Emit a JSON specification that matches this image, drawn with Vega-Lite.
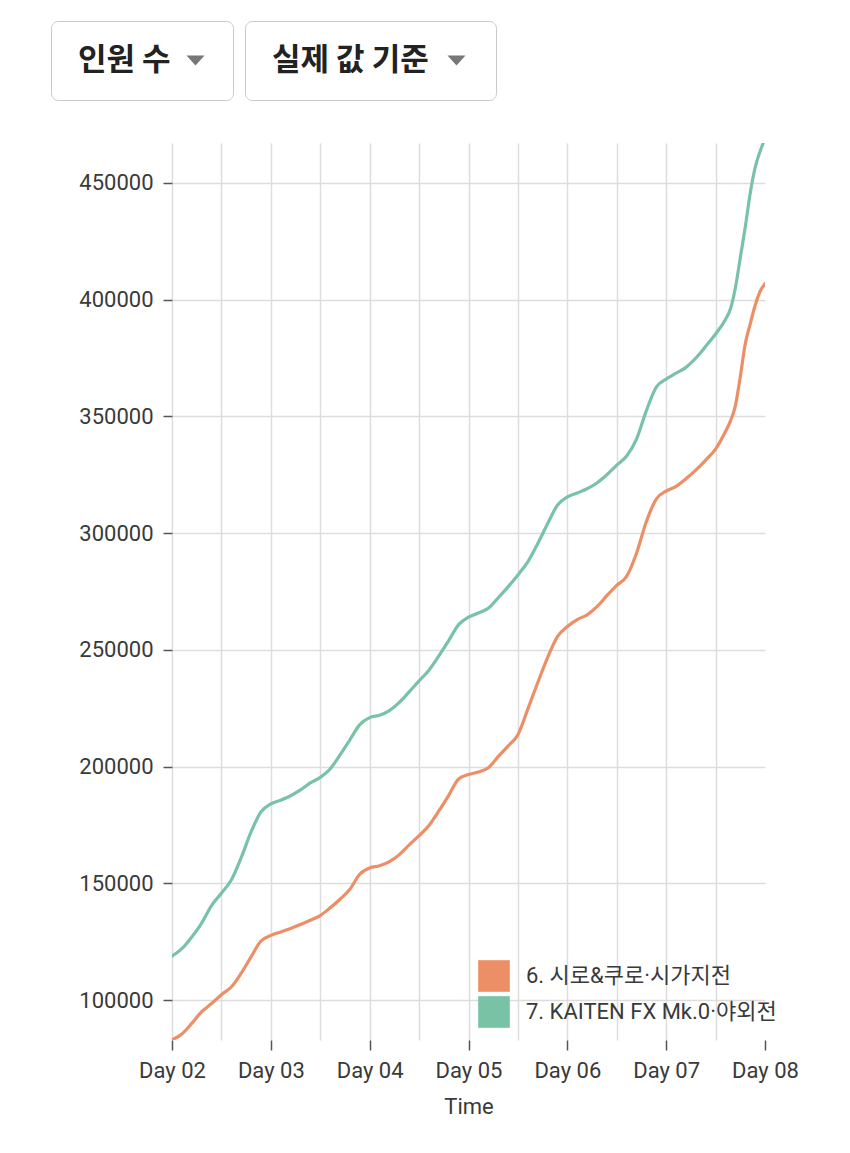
{
  "$schema": "https://vega.github.io/schema/vega-lite/v6.json",
  "background": "white",
  "padding": {"left": 50, "top": 20, "right": 0, "bottom": 0},
  "config": {"font": "Roboto, 'Noto Sans CJK KR', sans-serif", "view": {"stroke": null}},
  "width": 593,
  "height": 897,
  "resolve": {"scale": {"shape": "independent"}, "legend": {"shape": "independent"}},
  "layer": [
    {
      "data": {"values": [
        {"s": "6. 시로&쿠로·시가지전", "d": 2.0, "v": 83000},
        {"s": "6. 시로&쿠로·시가지전", "d": 2.1, "v": 85500},
        {"s": "6. 시로&쿠로·시가지전", "d": 2.2, "v": 90000},
        {"s": "6. 시로&쿠로·시가지전", "d": 2.3, "v": 95000},
        {"s": "6. 시로&쿠로·시가지전", "d": 2.4, "v": 98500},
        {"s": "6. 시로&쿠로·시가지전", "d": 2.5, "v": 102300},
        {"s": "6. 시로&쿠로·시가지전", "d": 2.6, "v": 105600},
        {"s": "6. 시로&쿠로·시가지전", "d": 2.7, "v": 111500},
        {"s": "6. 시로&쿠로·시가지전", "d": 2.8, "v": 118500},
        {"s": "6. 시로&쿠로·시가지전", "d": 2.9, "v": 125300},
        {"s": "6. 시로&쿠로·시가지전", "d": 3.0, "v": 127700},
        {"s": "6. 시로&쿠로·시가지전", "d": 3.1, "v": 129200},
        {"s": "6. 시로&쿠로·시가지전", "d": 3.2, "v": 130700},
        {"s": "6. 시로&쿠로·시가지전", "d": 3.3, "v": 132400},
        {"s": "6. 시로&쿠로·시가지전", "d": 3.4, "v": 134200},
        {"s": "6. 시로&쿠로·시가지전", "d": 3.5, "v": 136200},
        {"s": "6. 시로&쿠로·시가지전", "d": 3.6, "v": 139500},
        {"s": "6. 시로&쿠로·시가지전", "d": 3.7, "v": 143200},
        {"s": "6. 시로&쿠로·시가지전", "d": 3.8, "v": 147500},
        {"s": "6. 시로&쿠로·시가지전", "d": 3.9, "v": 153900},
        {"s": "6. 시로&쿠로·시가지전", "d": 4.0, "v": 156600},
        {"s": "6. 시로&쿠로·시가지전", "d": 4.1, "v": 157500},
        {"s": "6. 시로&쿠로·시가지전", "d": 4.2, "v": 159300},
        {"s": "6. 시로&쿠로·시가지전", "d": 4.3, "v": 162300},
        {"s": "6. 시로&쿠로·시가지전", "d": 4.4, "v": 166500},
        {"s": "6. 시로&쿠로·시가지전", "d": 4.5, "v": 170400},
        {"s": "6. 시로&쿠로·시가지전", "d": 4.6, "v": 174800},
        {"s": "6. 시로&쿠로·시가지전", "d": 4.7, "v": 181000},
        {"s": "6. 시로&쿠로·시가지전", "d": 4.8, "v": 187700},
        {"s": "6. 시로&쿠로·시가지전", "d": 4.9, "v": 194700},
        {"s": "6. 시로&쿠로·시가지전", "d": 5.0, "v": 196600},
        {"s": "6. 시로&쿠로·시가지전", "d": 5.1, "v": 197700},
        {"s": "6. 시로&쿠로·시가지전", "d": 5.2, "v": 199500},
        {"s": "6. 시로&쿠로·시가지전", "d": 5.3, "v": 204300},
        {"s": "6. 시로&쿠로·시가지전", "d": 5.4, "v": 208800},
        {"s": "6. 시로&쿠로·시가지전", "d": 5.5, "v": 213600},
        {"s": "6. 시로&쿠로·시가지전", "d": 5.6, "v": 224600},
        {"s": "6. 시로&쿠로·시가지전", "d": 5.7, "v": 235900},
        {"s": "6. 시로&쿠로·시가지전", "d": 5.8, "v": 246700},
        {"s": "6. 시로&쿠로·시가지전", "d": 5.9, "v": 255700},
        {"s": "6. 시로&쿠로·시가지전", "d": 6.0, "v": 260000},
        {"s": "6. 시로&쿠로·시가지전", "d": 6.1, "v": 263000},
        {"s": "6. 시로&쿠로·시가지전", "d": 6.2, "v": 265000},
        {"s": "6. 시로&쿠로·시가지전", "d": 6.3, "v": 268500},
        {"s": "6. 시로&쿠로·시가지전", "d": 6.4, "v": 273200},
        {"s": "6. 시로&쿠로·시가지전", "d": 6.5, "v": 277600},
        {"s": "6. 시로&쿠로·시가지전", "d": 6.6, "v": 281500},
        {"s": "6. 시로&쿠로·시가지전", "d": 6.7, "v": 291400},
        {"s": "6. 시로&쿠로·시가지전", "d": 6.8, "v": 305000},
        {"s": "6. 시로&쿠로·시가지전", "d": 6.9, "v": 314600},
        {"s": "6. 시로&쿠로·시가지전", "d": 7.0, "v": 318000},
        {"s": "6. 시로&쿠로·시가지전", "d": 7.1, "v": 320000},
        {"s": "6. 시로&쿠로·시가지전", "d": 7.2, "v": 323300},
        {"s": "6. 시로&쿠로·시가지전", "d": 7.3, "v": 327000},
        {"s": "6. 시로&쿠로·시가지전", "d": 7.4, "v": 331300},
        {"s": "6. 시로&쿠로·시가지전", "d": 7.5, "v": 336000},
        {"s": "6. 시로&쿠로·시가지전", "d": 7.6, "v": 343500},
        {"s": "6. 시로&쿠로·시가지전", "d": 7.65, "v": 348000},
        {"s": "6. 시로&쿠로·시가지전", "d": 7.7, "v": 354500},
        {"s": "6. 시로&쿠로·시가지전", "d": 7.75, "v": 367000},
        {"s": "6. 시로&쿠로·시가지전", "d": 7.8, "v": 381000},
        {"s": "6. 시로&쿠로·시가지전", "d": 7.85, "v": 389500},
        {"s": "6. 시로&쿠로·시가지전", "d": 7.9, "v": 397500},
        {"s": "6. 시로&쿠로·시가지전", "d": 7.95, "v": 403500},
        {"s": "6. 시로&쿠로·시가지전", "d": 8.0, "v": 406800},
        {"s": "7. KAITEN FX Mk.0·야외전", "d": 2.0, "v": 118800},
        {"s": "7. KAITEN FX Mk.0·야외전", "d": 2.1, "v": 122000},
        {"s": "7. KAITEN FX Mk.0·야외전", "d": 2.2, "v": 127000},
        {"s": "7. KAITEN FX Mk.0·야외전", "d": 2.3, "v": 133000},
        {"s": "7. KAITEN FX Mk.0·야외전", "d": 2.4, "v": 140500},
        {"s": "7. KAITEN FX Mk.0·야외전", "d": 2.5, "v": 145800},
        {"s": "7. KAITEN FX Mk.0·야외전", "d": 2.6, "v": 151400},
        {"s": "7. KAITEN FX Mk.0·야외전", "d": 2.7, "v": 161000},
        {"s": "7. KAITEN FX Mk.0·야외전", "d": 2.8, "v": 172000},
        {"s": "7. KAITEN FX Mk.0·야외전", "d": 2.9, "v": 180600},
        {"s": "7. KAITEN FX Mk.0·야외전", "d": 3.0, "v": 184000},
        {"s": "7. KAITEN FX Mk.0·야외전", "d": 3.1, "v": 185600},
        {"s": "7. KAITEN FX Mk.0·야외전", "d": 3.2, "v": 187500},
        {"s": "7. KAITEN FX Mk.0·야외전", "d": 3.3, "v": 190000},
        {"s": "7. KAITEN FX Mk.0·야외전", "d": 3.4, "v": 193000},
        {"s": "7. KAITEN FX Mk.0·야외전", "d": 3.5, "v": 195400},
        {"s": "7. KAITEN FX Mk.0·야외전", "d": 3.6, "v": 199000},
        {"s": "7. KAITEN FX Mk.0·야외전", "d": 3.7, "v": 205000},
        {"s": "7. KAITEN FX Mk.0·야외전", "d": 3.8, "v": 211500},
        {"s": "7. KAITEN FX Mk.0·야외전", "d": 3.9, "v": 218000},
        {"s": "7. KAITEN FX Mk.0·야외전", "d": 4.0, "v": 221000},
        {"s": "7. KAITEN FX Mk.0·야외전", "d": 4.1, "v": 222000},
        {"s": "7. KAITEN FX Mk.0·야외전", "d": 4.2, "v": 224000},
        {"s": "7. KAITEN FX Mk.0·야외전", "d": 4.3, "v": 227500},
        {"s": "7. KAITEN FX Mk.0·야외전", "d": 4.4, "v": 232000},
        {"s": "7. KAITEN FX Mk.0·야외전", "d": 4.5, "v": 236700},
        {"s": "7. KAITEN FX Mk.0·야외전", "d": 4.6, "v": 241300},
        {"s": "7. KAITEN FX Mk.0·야외전", "d": 4.7, "v": 247400},
        {"s": "7. KAITEN FX Mk.0·야외전", "d": 4.8, "v": 254000},
        {"s": "7. KAITEN FX Mk.0·야외전", "d": 4.9, "v": 260800},
        {"s": "7. KAITEN FX Mk.0·야외전", "d": 5.0, "v": 264000},
        {"s": "7. KAITEN FX Mk.0·야외전", "d": 5.1, "v": 265800},
        {"s": "7. KAITEN FX Mk.0·야외전", "d": 5.2, "v": 267800},
        {"s": "7. KAITEN FX Mk.0·야외전", "d": 5.3, "v": 272300},
        {"s": "7. KAITEN FX Mk.0·야외전", "d": 5.4, "v": 277000},
        {"s": "7. KAITEN FX Mk.0·야외전", "d": 5.5, "v": 282100},
        {"s": "7. KAITEN FX Mk.0·야외전", "d": 5.6, "v": 287700},
        {"s": "7. KAITEN FX Mk.0·야외전", "d": 5.7, "v": 295500},
        {"s": "7. KAITEN FX Mk.0·야외전", "d": 5.8, "v": 304000},
        {"s": "7. KAITEN FX Mk.0·야외전", "d": 5.9, "v": 312000},
        {"s": "7. KAITEN FX Mk.0·야외전", "d": 6.0, "v": 315500},
        {"s": "7. KAITEN FX Mk.0·야외전", "d": 6.1, "v": 317200},
        {"s": "7. KAITEN FX Mk.0·야외전", "d": 6.2, "v": 319000},
        {"s": "7. KAITEN FX Mk.0·야외전", "d": 6.3, "v": 321500},
        {"s": "7. KAITEN FX Mk.0·야외전", "d": 6.4, "v": 325000},
        {"s": "7. KAITEN FX Mk.0·야외전", "d": 6.5, "v": 329100},
        {"s": "7. KAITEN FX Mk.0·야외전", "d": 6.6, "v": 333000},
        {"s": "7. KAITEN FX Mk.0·야외전", "d": 6.7, "v": 340300},
        {"s": "7. KAITEN FX Mk.0·야외전", "d": 6.8, "v": 352500},
        {"s": "7. KAITEN FX Mk.0·야외전", "d": 6.9, "v": 362500},
        {"s": "7. KAITEN FX Mk.0·야외전", "d": 7.0, "v": 366000},
        {"s": "7. KAITEN FX Mk.0·야외전", "d": 7.1, "v": 368500},
        {"s": "7. KAITEN FX Mk.0·야외전", "d": 7.2, "v": 371000},
        {"s": "7. KAITEN FX Mk.0·야외전", "d": 7.3, "v": 375000},
        {"s": "7. KAITEN FX Mk.0·야외전", "d": 7.4, "v": 380000},
        {"s": "7. KAITEN FX Mk.0·야외전", "d": 7.5, "v": 385300},
        {"s": "7. KAITEN FX Mk.0·야외전", "d": 7.6, "v": 391500},
        {"s": "7. KAITEN FX Mk.0·야외전", "d": 7.65, "v": 396000},
        {"s": "7. KAITEN FX Mk.0·야외전", "d": 7.7, "v": 405000},
        {"s": "7. KAITEN FX Mk.0·야외전", "d": 7.75, "v": 418000},
        {"s": "7. KAITEN FX Mk.0·야외전", "d": 7.8, "v": 431000},
        {"s": "7. KAITEN FX Mk.0·야외전", "d": 7.85, "v": 445500},
        {"s": "7. KAITEN FX Mk.0·야외전", "d": 7.9, "v": 456500},
        {"s": "7. KAITEN FX Mk.0·야외전", "d": 7.95, "v": 463500},
        {"s": "7. KAITEN FX Mk.0·야외전", "d": 8.0, "v": 469000}
      ]},
      "mark": {"type": "line", "strokeWidth": 3.2, "clip": true, "interpolate": "monotone", "strokeCap": "round"},
      "encoding": {
        "x": {
          "field": "d", "type": "quantitative",
          "scale": {"domain": [2, 8], "nice": false, "zero": false},
          "axis": {
            "title": "Time",
            "values": [2, 2.5, 3, 3.5, 4, 4.5, 5, 5.5, 6, 6.5, 7, 7.5, 8],
            "labelExpr": "datum.value % 1 === 0 ? 'Day 0' + datum.value : ''",
            "domain": false,
            "grid": true, "gridColor": "#dddddd", "gridWidth": 1.5,
            "gridOpacity": {"condition": {"test": "datum.value >= 8", "value": 0}, "value": 1},
            "tickOpacity": {"condition": {"test": "datum.value % 1 !== 0", "value": 0}, "value": 1},
            "tickSize": 10, "tickColor": "#555555", "tickWidth": 1.5,
            "labelFontSize": 22, "labelColor": "#3a3a3a", "labelPadding": 10,
            "labelFlush": false, "labelOverlap": false,
            "titleFontSize": 22, "titleFontWeight": "normal", "titleColor": "#3a3a3a", "titlePadding": 15
          }
        },
        "y": {
          "field": "v", "type": "quantitative",
          "scale": {"domain": [82900, 467100], "nice": false, "zero": false},
          "axis": {
            "title": null,
            "values": [100000, 150000, 200000, 250000, 300000, 350000, 400000, 450000],
            "format": "d",
            "domain": false,
            "grid": true, "gridColor": "#dddddd", "gridWidth": 1.5,
            "tickSize": 9, "tickColor": "#555555", "tickWidth": 1.5,
            "labelFontSize": 22, "labelColor": "#3a3a3a", "labelPadding": 10
          }
        },
        "color": {
          "field": "s", "type": "nominal",
          "scale": {"domain": ["6. 시로&쿠로·시가지전", "7. KAITEN FX Mk.0·야외전"], "range": ["#ec8f66", "#78c2a6"]},
          "legend": {
            "title": null, "orient": "none", "legendX": 306, "legendY": 817,
            "symbolType": "square", "symbolSize": 1000, "symbolStrokeWidth": 0,
            "labelFontSize": 22, "labelColor": "#3a3a3a", "labelOffset": 16, "rowPadding": 4, "labelLimit": 400,
            "encode": {"symbols": {"update": {"fill": {"scale": "color", "field": "value"}, "fillOpacity": {"value": 1}, "strokeWidth": {"value": 0}}}}
          }
        }
      }
    },
    {
      "data": {"values": []},
      "mark": {"type": "point", "filled": true, "color": "#777777"},
      "encoding": {
        "shape": {
          "datum": "인원 수",
          "scale": {"range": ["M6.857,-0.357L8.143,-0.357L7.5,0.357ZM8.43,0L8.43,0.01"]},
          "legend": {
            "title": null, "orient": "none", "legendX": -121, "legendY": -122,
            "labelFontSize": 31, "labelFontWeight": "bold", "labelColor": "#222222",
            "labelFont": "'Noto Sans CJK KR', sans-serif", "labelLimit": 400, "labelOffset": -28,
            "symbolSize": 784, "symbolFillColor": "#777777", "symbolStrokeWidth": 0, "symbolOpacity": 1,
            "strokeColor": "#c9c9c9", "cornerRadius": 7, "padding": 24, "fillColor": "white",
            "encode": {"legend": {"update": {"strokeWidth": {"value": 1.5}}}, "symbols": {"update": {"fill": {"value": "#777777"}, "opacity": {"value": 1}, "strokeWidth": {"value": 0}}}}
          }
        }
      }
    },
    {
      "data": {"values": []},
      "mark": {"type": "point", "filled": true, "color": "#777777"},
      "encoding": {
        "shape": {
          "datum": "실제 값 기준",
          "scale": {"range": ["M11.643,-0.357L12.929,-0.357L12.286,0.357ZM13.36,0L13.36,0.01"]},
          "legend": {
            "title": null, "orient": "none", "legendX": 73, "legendY": -122,
            "labelFontSize": 31, "labelFontWeight": "bold", "labelColor": "#222222",
            "labelFont": "'Noto Sans CJK KR', sans-serif", "labelLimit": 400, "labelOffset": -28,
            "symbolSize": 784, "symbolFillColor": "#777777", "symbolStrokeWidth": 0, "symbolOpacity": 1,
            "strokeColor": "#c9c9c9", "cornerRadius": 7, "padding": 24, "fillColor": "white",
            "encode": {"legend": {"update": {"strokeWidth": {"value": 1.5}}}, "symbols": {"update": {"fill": {"value": "#777777"}, "opacity": {"value": 1}, "strokeWidth": {"value": 0}}}}
          }
        }
      }
    }
  ]
}
